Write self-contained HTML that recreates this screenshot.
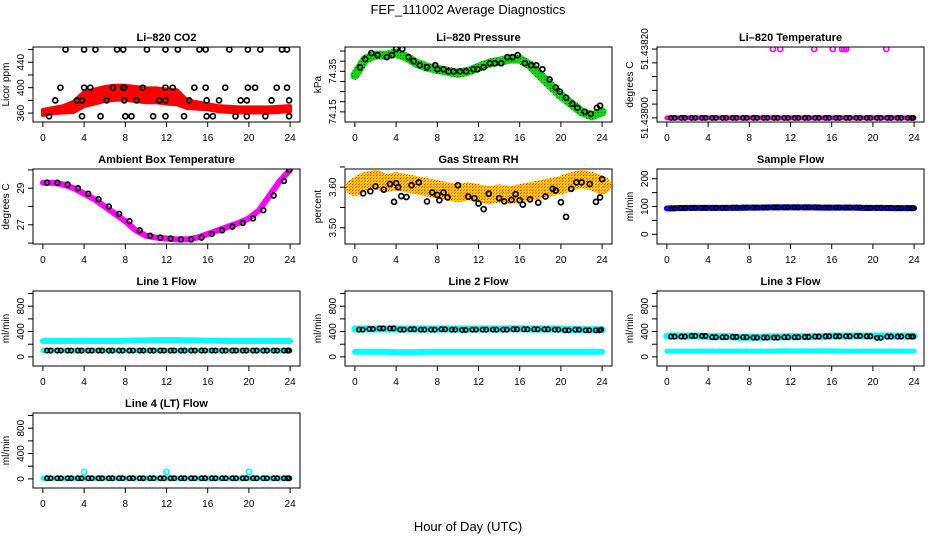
<!DOCTYPE html>
<html><head><meta charset="utf-8"><style>
html,body{margin:0;padding:0;background:#fff;}
svg{display:block;font-family:"Liberation Sans",Arial,sans-serif;}
</style></head><body>
<svg id="chart" width="936" height="540" viewBox="0 0 936 540">
<defs>
<pattern id="pat-rh" width="3" height="3" patternUnits="userSpaceOnUse"><rect width="3" height="3" fill="#ffcc00"/><rect x="1" y="1" width="1" height="1" fill="#ff2200"/><rect x="2" y="0" width="1" height="1" fill="#ff6600"/></pattern>
<pattern id="pat-pres" width="3" height="3" patternUnits="userSpaceOnUse"><rect width="3" height="3" fill="#00e000"/><rect x="1" y="1" width="1" height="1" fill="#003300"/></pattern>
</defs>
<text x="468" y="14" text-anchor="middle" font-size="13">FEF_111002  Average Diagnostics</text>
<text x="468" y="531" text-anchor="middle" font-size="13">Hour of Day (UTC)</text>
</svg>
<script>
// ---------- data ----------
const hours = [0,1,2,3,4,5,6,7,8,9,10,11,12,13,14,15,16,17,18,19,20,21,22,23,24];
const xTicks = [0,4,8,12,16,20,24];

const co2Band = [361,364,366,370,382,386,390,392,392,390,388,388,386,385,374,372,370,367,366,365,365,365,365,366,367];
const co2BandW = [4,4,5,8,11,11,11,11,11,11,11,11,11,11,6,5,4,4,4,4,4,4,4,4,4];
const co2PtsT = [2.2,4.0,5.1,7.2,7.8,10.1,11.9,13.1,15.2,15.8,18.1,19.9,21.1,23.2,23.7, 1.7,4.0,4.6,6.8,7.8,7.9,9.7,11.9,12.6,14.7,15.8,17.7,19.9,20.6,22.7,23.7, 1.2,3.3,3.8,6.2,7.9,9.1,11.3,11.9,14.2,15.9,17.1,19.2,19.8,22.2,23.9, 0.6,3.8,5.6,8.0,8.6,10.7,11.9,13.7,15.9,16.5,18.7,19.8,21.6,23.9];
const co2PtsV = [460,460,460,460,460,460,460,460,460,460,460,460,460,460,460, 400,400,400,400,400,400,400,400,400,400,400,400,400,400,400,400, 380,380,380,380,380,380,380,380,380,380,380,380,380,380,380, 355,355,355,355,355,355,355,355,355,355,355,355,355,355];

const presBand = [74.33,74.41,74.43,74.43,74.44,74.42,74.39,74.37,74.36,74.35,74.34,74.35,74.37,74.39,74.40,74.41,74.41,74.38,74.33,74.28,74.23,74.19,74.15,74.13,74.15];
const presPtsT = [0.5,1.0,1.6,2.2,3.1,3.6,4.0,4.6,5.2,5.7,6.3,7.0,7.8,8.0,8.6,9.1,9.6,10.2,10.8,11.5,11.9,12.5,13.1,13.6,14.2,14.8,15.3,15.8,16.5,17.1,17.6,18.2,18.9,19.5,19.9,20.5,21.1,21.6,22.3,22.9,23.5,23.8];
const presPtsV = [74.37,74.41,74.44,74.43,74.42,74.43,74.46,74.46,74.42,74.40,74.38,74.37,74.38,74.36,74.36,74.35,74.35,74.35,74.35,74.36,74.36,74.37,74.39,74.39,74.39,74.42,74.42,74.43,74.39,74.38,74.38,74.36,74.31,74.27,74.25,74.22,74.19,74.17,74.15,74.14,74.17,74.18];

const tempBandV = [51.438,51.438,51.438,51.438,51.438,51.438,51.438,51.438,51.438,51.438,51.438,51.438,51.438,51.438,51.438,51.438,51.438,51.438,51.438,51.438,51.438,51.438,51.438,51.438,51.438];
const tempHighT = [10.3,11.0,14.3,16.1,17.0,17.2,17.4,21.3];
const tempHighV = [51.4382,51.4382,51.4382,51.4382,51.4382,51.4382,51.4382,51.4382];

const ambBand = [29.3,29.3,29.2,29.0,28.7,28.4,28.0,27.6,27.2,26.7,26.4,26.3,26.25,26.2,26.2,26.3,26.5,26.7,26.9,27.1,27.35,27.8,28.6,29.4,30.0];

const rhBand = [3.600,3.615,3.620,3.610,3.615,3.610,3.605,3.600,3.595,3.590,3.585,3.590,3.585,3.580,3.585,3.580,3.585,3.590,3.595,3.600,3.605,3.615,3.620,3.615,3.605];
const rhPtsT = [0.8,1.5,2.0,2.8,3.4,3.8,4.0,4.2,4.5,5.0,5.5,6.2,7.0,7.5,8.0,8.2,8.6,9.0,10.0,11.0,11.6,12.0,12.5,13.0,14.0,14.5,15.2,15.6,16.0,16.3,17.0,17.8,18.5,19.2,19.5,20.0,20.5,21.0,21.5,22.0,22.8,23.4,23.8,24.0];
const rhPtsV = [3.585,3.590,3.602,3.594,3.608,3.564,3.610,3.600,3.578,3.576,3.605,3.612,3.565,3.587,3.581,3.568,3.587,3.575,3.605,3.577,3.573,3.560,3.546,3.584,3.573,3.565,3.569,3.583,3.568,3.557,3.570,3.562,3.577,3.596,3.592,3.563,3.527,3.596,3.612,3.612,3.608,3.564,3.575,3.620];

const sfBand = [93,94,95,95,95,95,95,95,96,96,97,97,97,97,97,96,96,96,96,95,95,95,94,94,94];
const sfPts = [93,94,95,95,95,95,96,96,96,96,97,97,97,97,97,96,96,96,96,95,95,95,94,94,94];

const l1Hi = [250,250,250,250,250,250,250,250,255,260,260,265,265,265,260,260,255,255,250,250,250,250,250,250,250];
const l1Lo = [100,100,100,100,100,100,100,100,100,100,100,100,100,100,100,100,100,100,100,100,100,100,100,100,100];
const l1Pts = [100,100,100,100,100,100,100,100,100,100,100,100,100,100,100,100,100,100,100,100,100,100,100,100,100];

const l2Hi = [440,440,440,440,440,440,440,440,440,440,440,440,440,440,440,445,445,440,440,440,440,430,430,430,430];
const l2Lo = [80,80,80,80,75,75,75,80,80,80,80,80,80,80,80,80,80,80,80,80,80,80,80,80,80];
const l2Pts = [430,440,450,450,430,435,430,430,435,430,425,430,430,430,430,435,435,435,435,430,420,430,420,420,430];

const l3Hi = [330,330,330,330,320,320,320,310,310,310,315,315,320,320,320,320,330,330,330,330,330,330,330,330,330];
const l3Lo = [90,90,90,90,90,90,90,90,90,90,90,95,95,95,95,95,95,90,90,90,90,90,90,90,90];
const l3Pts = [320,320,330,330,310,310,315,310,305,305,305,310,310,315,320,325,325,325,330,325,300,320,320,320,320];

const l4Lo = [10,10,10,10,10,10,10,10,10,10,10,10,10,10,10,10,10,10,10,10,10,10,10,10,10];
const l4Pts = [10,10,10,10,10,10,10,10,10,10,10,10,10,10,10,10,10,10,10,10,10,10,10,10,10];
const l4SpikeT = [4,12,20];
const l4SpikeV = [110,110,110];

// ---------- drawing ----------
const NS = "http://www.w3.org/2000/svg";
const svg = document.getElementById('chart');
function mk(tag, attrs, parent){
  const e = document.createElementNS(NS, tag);
  for (const k in attrs) e.setAttribute(k, attrs[k]);
  (parent||svg).appendChild(e);
  return e;
}
function panel(col, row, title, ylab, ylim, yTicks, yLabels, name){
  const x0 = 33 + 312*col, x1 = x0 + 267;
  const y0 = 47 + 122*row, y1 = y0 + 75;
  const g = mk('g', {});
  
  
  const X = h => x0 + (h + 0.96) / 25.92 * (x1 - x0);
  const Y = v => y1 - (v - ylim[0]) / (ylim[1] - ylim[0]) * (y1 - y0);
  const t = mk('text', {x:(x0+x1)/2, y:y0-6, 'text-anchor':'middle', 'font-size':11, 'font-weight':'bold'}, g);
  t.textContent = title;
  
  
  const clipId = 'clip-' + name;
  const cp = mk('clipPath', {id: clipId}, g);
  mk('rect', {x:x0, y:y0, width:x1-x0, height:y1-y0}, cp);
  const plot = mk('g', {'clip-path':'url(#'+clipId+')'}, g);
  
  
  const box = mk('rect', {x:x0, y:y0, width:x1-x0, height:y1-y0, fill:'none', stroke:'#000', 'stroke-width':1}, g);
  
  
  const xa = mk('g', {}, g);
  
  
  xTicks.forEach(h => {
    mk('line', {x1:X(h), x2:X(h), y1:y1, y2:y1+5, stroke:'#000'}, xa);
    const l = mk('text', {x:X(h), y:y1+19, 'text-anchor':'middle', 'font-size':10}, xa);
    l.textContent = h;
  });
  const ya = mk('g', {}, g);
  
  
  yTicks.forEach(v => {
    mk('line', {x1:x0-5, x2:x0, y1:Y(v), y2:Y(v), stroke:'#000'}, ya);
  });
  yLabels.forEach(v => {
    const l = mk('text', {x:x0-9, y:Y(v[0]), 'text-anchor':'middle', 'font-size':10, transform:'rotate(-90 '+(x0-9)+' '+Y(v[0])+')'}, ya);
    l.textContent = v[1];
  });
  const yl = mk('text', {x:x0-24, y:(y0+y1)/2, 'text-anchor':'middle', 'font-size':10, transform:'rotate(-90 '+(x0-24)+' '+((y0+y1)/2)+')'}, g);
  yl.textContent = ylab;
  
  
  return {X, Y, plot};
}
function band(p, ts, vs, color, width, name){
  const pts = ts.map((h,i) => p.X(h) + ',' + p.Y(vs[i])).join(' ');
  const e = mk('polyline', {points:pts, fill:'none', stroke:color, 'stroke-width':width, 'stroke-linejoin':'round', 'stroke-linecap':'round'}, p.plot);
  
  
}
function varBand(p, ts, vs, ws, color, name){
  const top = ts.map((h,i) => p.X(h) + ',' + p.Y(vs[i] + ws[i])).join(' ');
  const bot = ts.slice().reverse().map((h,j) => { const i = ts.length-1-j; return p.X(h) + ',' + p.Y(vs[i] - ws[i]); }).join(' ');
  const e = mk('polygon', {points: top + ' ' + bot, fill:color, stroke:color, 'stroke-width':4, 'stroke-linejoin':'round'}, p.plot);
  
  
}
function points(p, ts, vs, color, name, r){
  const g = mk('g', {}, p.plot);
  
  
  ts.forEach((h,i) => {
    mk('circle', {cx:p.X(h), cy:p.Y(vs[i]), r:r||2.5, fill:'none', stroke:color, 'stroke-width':1.7}, g);
  });
}
const hoursMid = hours.map(h => Math.min(h + 0.4, 23.9));
const hoursQ = hours.slice(0,24).map(h => h + 0.75);

// 1. CO2
let p = panel(0,0,'Li\u2013820 CO2','Licor ppm',[346,464],[360,380,400,420,440,460],[[360,'360'],[400,'400'],[440,'440']],'co2');
varBand(p, hours, co2Band, co2BandW, '#ff0000', 'co2-band');
points(p, co2PtsT, co2PtsV, '#000', 'co2-points');

// 2. Pressure
p = panel(1,0,'Li\u2013820 Pressure','kPa',[74.10,74.47],[74.15,74.20,74.25,74.30,74.35,74.40,74.45],[[74.15,'74.15'],[74.35,'74.35']],'pressure');
band(p, hours, presBand, 'url(#pat-pres)', 9, 'pressure-band');
points(p, presPtsT, presPtsV, '#000', 'pressure-points');

// 3. Li-820 Temperature
p = panel(2,0,'Li\u2013820 Temperature','degrees C',[51.437988,51.438206],[51.43800,51.43804,51.43808,51.43812,51.43816,51.43820],[[51.438,'51.43800'],[51.4382,'51.43820']],'li820-temp');
band(p, hours, tempBandV, '#ff00ff', 5, 'li820-temp-band');
points(p, hoursMid, tempBandV, '#000', 'li820-temp-points', 2.2);
points(p, hoursQ, tempBandV.slice(0,24), '#000', 'li820-temp-points-2', 2.2);
points(p, tempHighT, tempHighV, '#ff00ff', 'li820-temp-high-points');

// 4. Ambient
p = panel(0,1,'Ambient Box Temperature','degrees C',[25.95,30.05],[26,27,28,29,30],[[27,'27'],[29,'29']],'ambient-temp');
band(p, hours, ambBand, '#ff00ff', 6, 'ambient-band');
points(p, hoursMid, ambBand, '#000', 'ambient-points', 2.4);

// 5. Gas Stream RH
p = panel(1,1,'Gas Stream RH','percent',[3.46,3.645],[3.50,3.55,3.60,3.65],[[3.50,'3.50'],[3.60,'3.60']],'gas-rh');
band(p, hours, rhBand, 'url(#pat-rh)', 18, 'gas-rh-band');
points(p, rhPtsT, rhPtsV, '#000', 'gas-rh-points');

// 6. Sample Flow
p = panel(2,1,'Sample Flow','ml/min',[-35,235],[0,50,100,150,200],[[0,'0'],[100,'100'],[200,'200']],'sample-flow');
band(p, hours, sfBand, '#0000ff', 6, 'sample-flow-band');
points(p, hoursMid, sfPts, '#000', 'sample-flow-points', 2.2);
points(p, hoursQ, sfPts.slice(0,24), '#000', 'sample-flow-points-2', 2.2);

const flowLim = [-144, 1040], flowTicks = [0,200,400,600,800,1000], flowLabels = [[0,'0'],[400,'400'],[800,'800']];
// 7. Line 1
p = panel(0,2,'Line 1 Flow','ml/min',flowLim,flowTicks,flowLabels,'line1-flow');
band(p, hours, l1Hi, '#00ffff', 6, 'line1-high-band');
band(p, hours, l1Lo, '#00ffff', 5, 'line1-low-band');
points(p, hoursMid, l1Pts, '#000', 'line1-points', 2.2);
points(p, hoursQ, l1Pts.slice(0,24), '#000', 'line1-points-2', 2.2);

// 8. Line 2
p = panel(1,2,'Line 2 Flow','ml/min',flowLim,flowTicks,flowLabels,'line2-flow');
band(p, hours, l2Hi, '#00ffff', 7, 'line2-high-band');
band(p, hours, l2Lo, '#00ffff', 6, 'line2-low-band');
points(p, hoursMid, l2Pts, '#000', 'line2-points', 2.2);
points(p, hoursQ, l2Pts.slice(0,24), '#000', 'line2-points-2', 2.2);

// 9. Line 3
p = panel(2,2,'Line 3 Flow','ml/min',flowLim,flowTicks,flowLabels,'line3-flow');
band(p, hours, l3Hi, '#00ffff', 7, 'line3-high-band');
band(p, hours, l3Lo, '#00ffff', 5, 'line3-low-band');
points(p, hoursMid, l3Pts, '#000', 'line3-points', 2.2);
points(p, hoursQ, l3Pts.slice(0,24), '#000', 'line3-points-2', 2.2);

// 10. Line 4
p = panel(0,3,'Line 4 (LT) Flow','ml/min',flowLim,flowTicks,flowLabels,'line4-flow');
band(p, hours, l4Lo, '#00ffff', 5, 'line4-band');
points(p, hoursMid, l4Pts, '#000', 'line4-points', 2.2);
points(p, hoursQ, l4Pts.slice(0,24), '#000', 'line4-points-2', 2.2);
points(p, l4SpikeT, l4SpikeV, '#00ffff', 'line4-spike-points', 2.6);
</script>
</body></html>
